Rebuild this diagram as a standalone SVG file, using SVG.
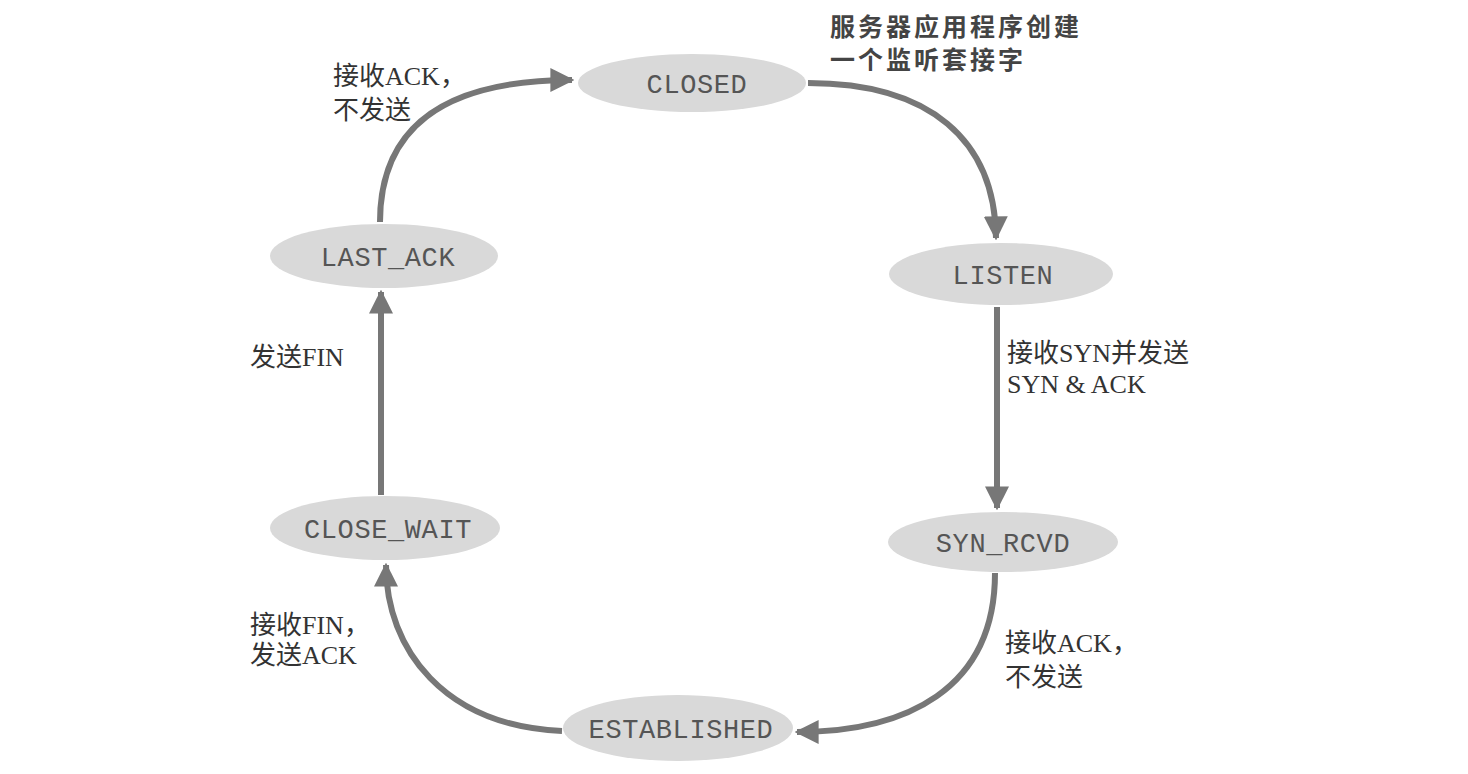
<svg xmlns="http://www.w3.org/2000/svg" width="1468" height="774" viewBox="0 0 1468 774">
  <defs>
    <marker id="arrow" viewBox="0 0 10 10" refX="9" refY="5" markerWidth="4" markerHeight="4" markerUnits="strokeWidth" orient="auto">
      <path d="M0,0 L10,5 L0,10 z" fill="#777"/>
    </marker>
    <style>
      .state ellipse { fill: #d9d9d9; }
      .state text { font-family: "Liberation Mono", "Courier New", monospace; font-size: 27px; fill: #555; text-anchor: middle; letter-spacing: 0.6px; }
      .edge { fill: none; stroke: #777; stroke-width: 6; marker-end: url(#arrow); }
      .label { font-family: "Liberation Serif", "Noto Sans CJK SC", serif; font-size: 26px; fill: #333; }
      .note { font-family: "Noto Sans CJK SC", sans-serif; font-size: 25px; font-weight: bold; fill: #444; letter-spacing: 3px; }
    </style>
  </defs>
  <rect width="1468" height="774" fill="#ffffff"/>

  <!-- transitions -->
  <g id="connectors">
    <path class="edge" d="M380,222 C380,130 440,80 572,80"/>
    <path class="edge" d="M808,83 C930,83 995,140 996,238"/>
    <path class="edge" d="M997,307 L997,508"/>
    <path class="edge" d="M995,573 C995,690 905,732 797,732"/>
    <path class="edge" d="M562,731 C445,726 386,650 386,565"/>
    <path class="edge" d="M381,495 L381,292"/>
  </g>

  <!-- states -->
  <g id="closed" class="state">
    <ellipse cx="692" cy="83" rx="114" ry="29"/>
    <text x="697" y="93">CLOSED</text>
  </g>
  <g id="listen" class="state">
    <ellipse cx="1001" cy="274" rx="112" ry="31"/>
    <text x="1003" y="284">LISTEN</text>
  </g>
  <g id="syn_rcvd" class="state">
    <ellipse cx="1003" cy="542" rx="115" ry="30"/>
    <text x="1003" y="552">SYN_RCVD</text>
  </g>
  <g id="established" class="state">
    <ellipse cx="678" cy="728" rx="115" ry="33"/>
    <text x="681" y="738">ESTABLISHED</text>
  </g>
  <g id="close_wait" class="state">
    <ellipse cx="385" cy="528" rx="115" ry="32"/>
    <text x="388" y="538">CLOSE_WAIT</text>
  </g>
  <g id="last_ack" class="state">
    <ellipse cx="384" cy="256" rx="114" ry="32"/>
    <text x="388" y="266">LAST_ACK</text>
  </g>

  <!-- transition labels -->
  <g id="labels">
    <text class="note" x="830" y="36">服务器应用程序创建</text>
    <text class="note" x="830" y="69">一个监听套接字</text>
    <text class="label" x="333" y="85">接收ACK，</text>
    <text class="label" x="333" y="119">不发送</text>
    <text class="label" x="1007" y="362">接收SYN并发送</text>
    <text class="label" x="1007" y="393">SYN &amp; ACK</text>
    <text class="label" x="250" y="366">发送FIN</text>
    <text class="label" x="250" y="634">接收FIN，</text>
    <text class="label" x="250" y="664">发送ACK</text>
    <text class="label" x="1005" y="652">接收ACK，</text>
    <text class="label" x="1005" y="686">不发送</text>
  </g>
</svg>
